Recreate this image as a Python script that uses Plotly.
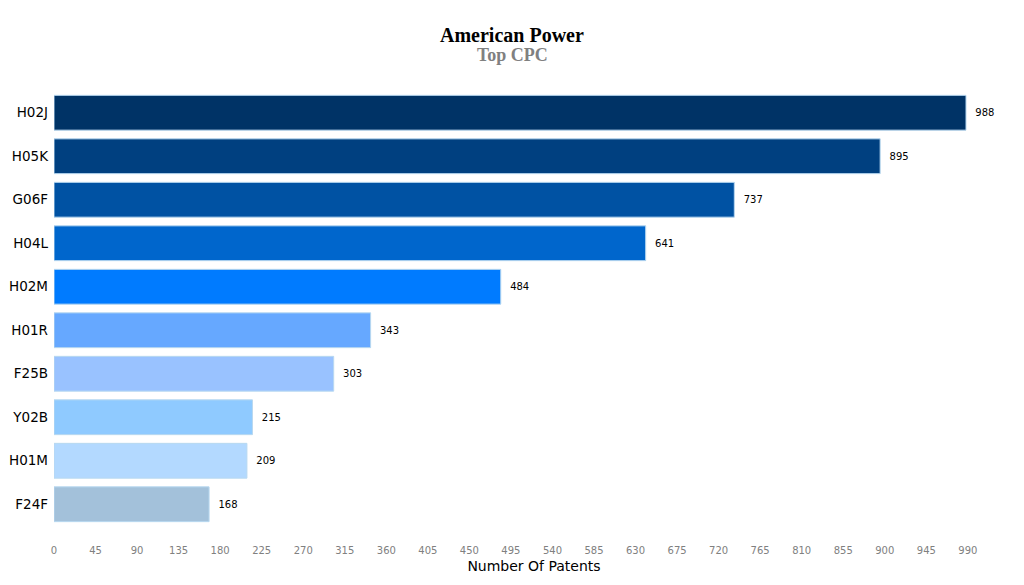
import plotly.graph_objects as go

categories = ["H02J", "H05K", "G06F", "H04L", "H02M", "H01R", "F25B", "Y02B", "H01M", "F24F"]
values = [988, 895, 737, 641, 484, 343, 303, 215, 209, 168]
colors = ["#003366", "#004080", "#0052a3", "#0066cc", "#007bff",
          "#66a8ff", "#99c2ff", "#8fcaff", "#b3d9ff", "#a3c1da"]
tick_vals = list(range(0, 991, 45))

fig = go.Figure(go.Bar(
    y=categories,
    x=values,
    orientation="h",
    marker=dict(color=colors, line=dict(color="#b8d8f0", width=1)),
    text=["\u00a0\u00a0" + str(v) for v in values],
    textposition="outside",
    textfont=dict(family="DejaVu Sans", size=10, color="#000000"),
    cliponaxis=False,
    width=0.8,
))

fig.update_layout(
    width=1024, height=585,
    paper_bgcolor="white", plot_bgcolor="white",
    margin=dict(l=54, r=10, t=91, b=59, autoexpand=False),
    showlegend=False,
    bargap=0.2,
    annotations=[
        dict(text="<b>American Power</b>", xref="paper", yref="paper",
             x=(512 - 54) / 960, y=(526 - 35) / 435, xanchor="center", yanchor="middle",
             showarrow=False,
             font=dict(family="Times New Roman, Liberation Serif, serif", size=20, color="#000000")),
        dict(text="<b>Top CPC</b>", xref="paper", yref="paper",
             x=(512 - 54) / 960, y=(526 - 55) / 435, xanchor="center", yanchor="middle",
             showarrow=False,
             font=dict(family="Times New Roman, Liberation Serif, serif", size=18, color="#808080")),
    ],
)
fig.update_xaxes(
    range=[0, 1040],
    tickmode="array", tickvals=tick_vals, ticktext=[str(v) for v in tick_vals],
    tickfont=dict(family="DejaVu Sans", size=10, color="#808080"),
    showgrid=False, zeroline=False, showline=False,
    ticklabelstandoff=17, automargin=False,
    title=dict(text="Number Of Patents", font=dict(family="DejaVu Sans", size=14, color="#000000"), standoff=6),
)
fig.update_yaxes(
    categoryorder="array", categoryarray=categories[::-1],
    tickfont=dict(family="DejaVu Sans", size=13.5, color="#000000"),
    showgrid=False, zeroline=False, showline=False,
    ticks="", ticklabelstandoff=5, automargin=False,
)

fig.write_html("out.html", config={"displayModeBar": False},
               post_script="document.body.style.margin='0';document.body.style.padding='0';")
